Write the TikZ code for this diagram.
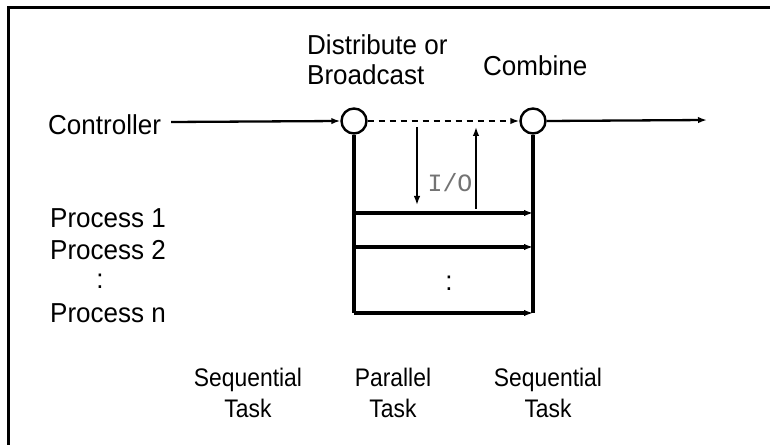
\documentclass[tikz,border=0pt]{standalone}
\usepackage{fontspec}
\setmainfont{Liberation Sans}
\newfontfamily\mainlbl[FakeStretch=0.95]{Liberation Sans}
\newfontfamily\botlbl[FakeStretch=0.9]{Liberation Sans}
\newfontfamily\iofont{Liberation Mono}
\usetikzlibrary{arrows.meta}
\begin{document}
\begin{tikzpicture}[x=1bp,y=-1bp,
  lbl/.style={font=\mainlbl\fontsize{27.5}{30}\selectfont,inner sep=0pt,align=center},
  blbl/.style={font=\botlbl\fontsize{25.5}{31}\selectfont,inner sep=0pt,align=center},
  junc/.style={circle,draw,line width=2.4bp,minimum size=25bp,inner sep=0pt},
  arr/.style={-{Latex[length=9bp,width=6.5bp]}},
  thick line/.style={line width=3.2bp},
  mid line/.style={line width=2.3bp},
  thin line/.style={line width=1.5bp}]
\useasboundingbox (0,0) rectangle (770,445);
% frame
\draw[line width=3bp] (8,445) -- (8,8) -- (770,8);
% junctions
\node[junc] (d) at (354,121) {};
\node[junc] (c) at (533,121) {};
% labels
\node[lbl,anchor=west] (ctrl) at (48,125) {Controller};
\node[lbl,align=left,anchor=west] (dist) at (307,60) {Distribute or\\Broadcast};
\node[lbl,anchor=west] (comb) at (483,66) {Combine};
\node[lbl,anchor=west] (p1) at (50,218) {Process 1};
\node[lbl,anchor=west] (p2) at (50,250) {Process 2};
\node[lbl] (pd) at (100,281) {:};
\node[lbl,anchor=west] (pn) at (50,313) {Process n};
\node[lbl] (dots) at (449,283) {:};
\node[font=\iofont\fontsize{25}{28}\selectfont,text=black!55,inner sep=0pt] (io) at (450,183) {I/O};
\node[blbl] (s1) at (248,393) {Sequential\\Task};
\node[blbl] (par) at (393,393) {Parallel\\Task};
\node[blbl] (s2) at (548,393) {Sequential\\Task};
% coordinates
\coordinate (out) at (707,120);
\coordinate (lb) at (354,313);
\coordinate (rb) at (533,313);
\coordinate (l1) at (354,213);
\coordinate (r1) at (533,213);
\coordinate (l2) at (354,247);
\coordinate (r2) at (533,247);
\coordinate (dnA) at (417,127);
\coordinate (dnB) at (417,205);
\coordinate (upA) at (476,209);
\coordinate (upB) at (476,127);
% connectors
\draw[mid line,arr] (ctrl.east) ++(10,-3) -- (d.west);
\draw[mid line,arr,dash pattern=on 6bp off 5bp] (d.east) -- (c.west);
\draw[mid line,arr] (c.east) -- (out);
\draw[thick line] (d.south) -- (lb);
\draw[thick line] (c.south) -- (rb);
\draw[thick line,arr] (l1) -- (r1);
\draw[thick line,arr] (l2) -- (r2);
\draw[thick line,arr] (lb) -- (rb);
\draw[thin line,arr] (dnA) -- (dnB);
\draw[thin line,arr] (upA) -- (upB);
\end{tikzpicture}
\end{document}
